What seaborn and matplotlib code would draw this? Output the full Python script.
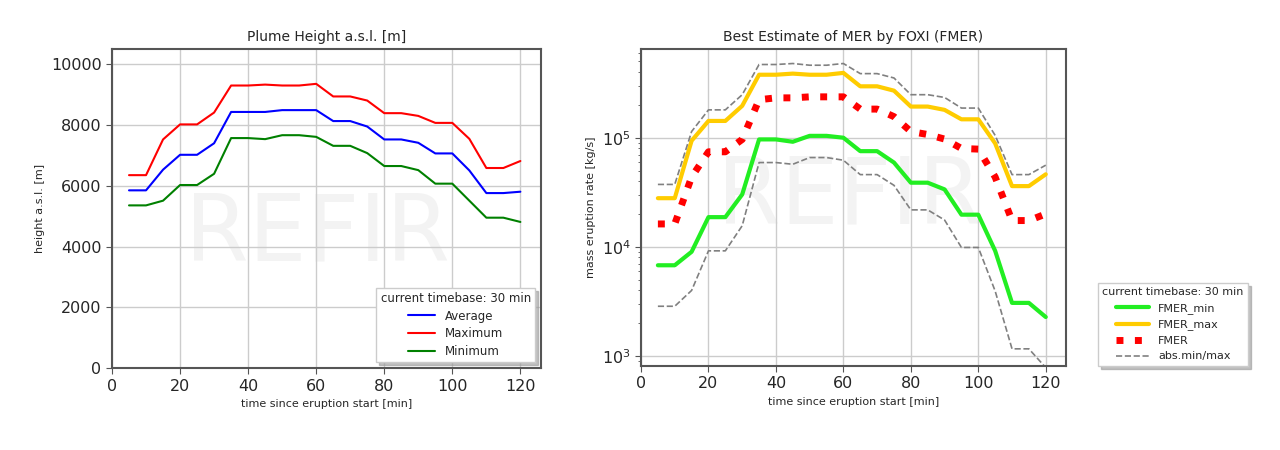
import numpy as np
import pandas as pd
import matplotlib
matplotlib.use("Agg")
import matplotlib.pyplot as plt
import seaborn as sns

time_min = [5, 10, 15, 20, 25, 30, 35, 40, 45, 50, 55, 60,
            65, 70, 75, 80, 85, 90, 95, 100, 105, 110, 115, 120]

height_avg = [5850, 5850, 6530, 7020, 7020, 7400, 8430, 8430, 8430, 8490, 8490, 8490,
              8130, 8130, 7950, 7525, 7525, 7415, 7065, 7065, 6505, 5760, 5760, 5805]
height_max = [6350, 6350, 7525, 8020, 8020, 8410, 9300, 9300, 9330, 9300, 9300, 9355,
              8940, 8940, 8805, 8390, 8390, 8300, 8070, 8070, 7545, 6585, 6585, 6815]
height_min = [5355, 5355, 5510, 6025, 6025, 6395, 7570, 7570, 7535, 7665, 7665, 7610,
              7315, 7315, 7075, 6650, 6650, 6515, 6070, 6070, 5510, 4950, 4950, 4810]

fmer_min = [6770, 6770, 9000, 18700, 18700, 30200, 96500, 96500, 91800, 104000, 104000, 100000,
            75300, 75300, 59200, 38700, 38700, 33600, 19700, 19700, 9180, 3060, 3060, 2270]
fmer_max = [27900, 27900, 93800, 142500, 142500, 196000, 378000, 378000, 387000, 378000, 378000, 393000,
            296000, 296000, 270000, 193000, 193000, 180000, 147500, 147500, 88700, 36000, 36000, 46200]
fmer = [16200, 16200, 43600, 74300, 74300, 96500, 223000, 232000, 232000, 237000, 237000, 237000,
        183000, 183000, 156000, 114000, 107000, 97200, 79700, 78600, 43600, 17400, 17400, 20000]
abs_max = [37300, 37300, 114000, 180000, 180000, 248000, 469000, 469000, 479000, 462000, 462000, 479000,
           387000, 387000, 353000, 248000, 248000, 234000, 187000, 187000, 105000, 45900, 45900, 56000]
abs_min = [2850, 2850, 3980, 9180, 9180, 15600, 59200, 59200, 57100, 65800, 65800, 62200,
           45900, 45900, 36600, 21800, 21800, 17600, 9860, 9860, 3930, 1160, 1160, 780]

sns.set_style("whitegrid")
plt.rcParams['font.family'] = ['DejaVu Sans']

fig = plt.figure(figsize=(12.8, 4.5), dpi=100)
ax1 = fig.add_axes([0.0875, 0.182, 0.335, 0.709])
ax2 = fig.add_axes([0.5008, 0.187, 0.332, 0.704])

grid_kw = dict(color="#cccccc", linewidth=1.0)
shadow_kw = {"color": "#999999", "alpha": 0.6}
wm_color = "#f3f3f3"

# ---- Left: plume height ----
for vals, col, lab in [(height_avg, "#0000ff", "Average"),
                       (height_max, "#ff0000", "Maximum"),
                       (height_min, "#008000", "Minimum")]:
    sns.lineplot(x=time_min, y=vals, ax=ax1, color=col, linewidth=1.5, label=lab)

ax1.set_xlim(0, 126)
ax1.set_ylim(0, 10500)
ax1.set_xticks([0, 20, 40, 60, 80, 100, 120])
ax1.set_yticks([0, 2000, 4000, 6000, 8000, 10000])
ax1.set_title("Plume Height a.s.l. [m]", fontsize=10)
ax1.set_xlabel("time since eruption start [min]", fontsize=8)
ax1.set_ylabel("height a.s.l. [m]", fontsize=8)
ax1.tick_params(axis="both", labelsize=11.5, length=4, color="#555555", direction="out",
                bottom=True, left=True)
ax1.grid(True, **grid_kw)
ax1.text(0.48, 0.42, "REFIR", transform=ax1.transAxes, fontsize=66, color=wm_color,
         ha="center", va="center", zorder=0)
ax1.legend(loc="lower right", title="current timebase: 30 min", fontsize=8.5,
           title_fontsize=8.5, shadow=shadow_kw, fancybox=False, framealpha=1,
           edgecolor="#cccccc", handlelength=2.3, labelspacing=0.4, borderpad=0.35)

# ---- Right: MER ----
sns.lineplot(x=time_min, y=fmer_min, ax=ax2, color="#22ee22", linewidth=3, label="FMER_min")
sns.lineplot(x=time_min, y=fmer_max, ax=ax2, color="#ffcc00", linewidth=3, label="FMER_max")
sns.lineplot(x=time_min, y=fmer, ax=ax2, color="#ff0000", linewidth=5, linestyle=":", label="FMER")
sns.lineplot(x=time_min, y=abs_max, ax=ax2, color="#808080", linewidth=1.2, linestyle="--",
             label="abs.min/max")
sns.lineplot(x=time_min, y=abs_min, ax=ax2, color="#808080", linewidth=1.2, linestyle="--")

ax2.set_yscale("log")
ax2.set_xlim(0, 126)
ax2.set_ylim(810, 6.5e5)
ax2.set_xticks([0, 20, 40, 60, 80, 100, 120])
ax2.set_title("Best Estimate of MER by FOXI (FMER)", fontsize=10)
ax2.set_xlabel("time since eruption start [min]", fontsize=8)
ax2.set_ylabel("mass eruption rate [kg/s]", fontsize=8)
ax2.tick_params(axis="both", which="major", labelsize=11.5, length=4, color="#555555",
                direction="out", bottom=True, left=True)
ax2.tick_params(axis="y", which="minor", length=2, color="#555555", left=True)
ax2.grid(True, which="major", **grid_kw)
ax2.grid(False, which="minor")
ax2.text(0.49, 0.53, "REFIR", transform=ax2.transAxes, fontsize=66, color=wm_color,
         ha="center", va="center", zorder=0)
h, l = ax2.get_legend_handles_labels()
ax2.legend(h, l, loc="upper left", bbox_to_anchor=(1098 / 1280, 1 - 283 / 450),
           bbox_transform=fig.transFigure, borderaxespad=0,
           title="current timebase: 30 min", fontsize=8, title_fontsize=8, shadow=shadow_kw,
           fancybox=False, framealpha=1, edgecolor="#cccccc", handlelength=3)

for ax in (ax1, ax2):
    for s in ax.spines.values():
        s.set_visible(True)
        s.set_color("#555555")
        s.set_linewidth(1.5)

fig.savefig("out.png", dpi=100, facecolor="white")
